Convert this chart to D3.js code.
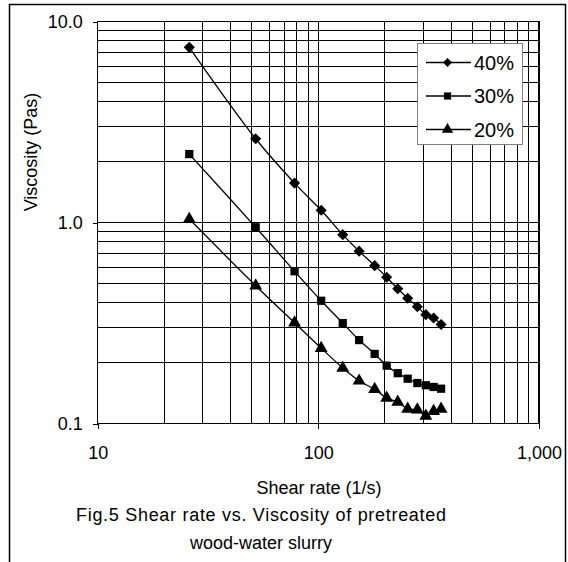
<!DOCTYPE html>
<html><head><meta charset="utf-8">
<script src="https://cdn.jsdelivr.net/npm/d3@7"></script>
<style>html,body{margin:0;padding:0;background:#fff;}svg{display:block;font-family:"Liberation Sans",Arial,sans-serif;}</style>
</head><body>
<svg id="c" width="568" height="562"></svg>
<script>
const shearRate = [26, 52, 78, 103, 129, 153, 180, 204, 229, 254, 281, 307, 333, 360];
const visc40 = [7.44, 2.61, 1.57, 1.15, 0.87, 0.72, 0.61, 0.534, 0.468, 0.42, 0.381, 0.348, 0.335, 0.311];
const visc30 = [2.19, 0.947, 0.572, 0.408, 0.316, 0.26, 0.222, 0.194, 0.178, 0.167, 0.159, 0.155, 0.152, 0.149];
const visc20 = [1.04, 0.485, 0.317, 0.237, 0.189, 0.163, 0.148, 0.134, 0.128, 0.118, 0.117, 0.109, 0.115, 0.118];
const seriesNames = ["40%", "30%", "20%"];
const seriesValues = [visc40, visc30, visc20];
const xTickValues = [10, 100, 1000];
const xTickLabels = ["10", "100", "1,000"];
const yTickValues = [0.1, 1, 10];
const yTickLabels = ["0.1", "1.0", "10.0"];
const xTitle = "Shear rate (1/s)";
const yTitle = "Viscosity (Pas)";
const caption = ["Fig.5 Shear rate vs. Viscosity of pretreated", "wood-water slurry"];

const svg = d3.select("#c");
const L = 97.7, R = 539, T = 21.5, B = 423.5;
const x = d3.scaleLog().domain([10, 1000]).range([L, R]);
const y = d3.scaleLog().domain([0.1, 10]).range([B, T]);
const FS = 18;

// marker shapes: diamond = rotated square
const shapes = [
  { type: d3.symbolSquare, size: 62, rot: 45, lsize: 40 },
  { type: d3.symbolSquare, size: 68, rot: 0, lsize: 52 },
  { type: d3.symbolTriangle, size: 72, rot: 0, lsize: 56 }
];

// outer frame
svg.append("rect").attr("x", 9.5).attr("y", 4.5).attr("width", 556).attr("height", 570)
  .attr("fill", "none").attr("stroke", "#000").attr("stroke-width", 1.5);

// grid
const xGrid = [];
for (let d = 10; d < 1000; d *= 10) for (let k = 1; k <= 9; k++) xGrid.push(d * k);
xGrid.push(1000);
const yGrid = [];
for (let d = 0.1; d < 10 - 1e-9; d *= 10) for (let k = 1; k <= 9; k++) yGrid.push(+(d * k).toFixed(3));
yGrid.push(10);
const g = svg.append("g").attr("shape-rendering", "crispEdges");
g.selectAll("line.gx").data(xGrid).join("line")
  .attr("x1", d => x(d)).attr("x2", d => x(d)).attr("y1", T).attr("y2", B)
  .attr("stroke", "#000").attr("stroke-width", 1);
g.selectAll("line.gy").data(yGrid).join("line")
  .attr("y1", d => y(d)).attr("y2", d => y(d)).attr("x1", L).attr("x2", R)
  .attr("stroke", "#000").attr("stroke-width", 1);
g.append("rect").attr("x", L).attr("y", T).attr("width", R - L).attr("height", B - T)
  .attr("fill", "none").attr("stroke", "#000").attr("stroke-width", 1.5);

// axes
const xAxis = d3.axisBottom(x).tickValues(xTickValues).tickFormat((d, i) => xTickLabels[i]).tickSize(5).tickPadding(18);
const yAxis = d3.axisLeft(y).tickValues(yTickValues).tickFormat((d, i) => yTickLabels[i]).tickSize(5).tickPadding(10);
const gx = svg.append("g").attr("transform", `translate(0,${B})`).call(xAxis);
const gy = svg.append("g").attr("transform", `translate(${L},0)`).call(yAxis);
[gx, gy].forEach(a => {
  a.select(".domain").remove();
  a.selectAll("line").attr("stroke", "#000").attr("shape-rendering", "crispEdges");
  a.selectAll("text").attr("font-size", FS).attr("fill", "#000").attr("font-family", "Liberation Sans, Arial, sans-serif");
});

// titles
svg.append("text").attr("x", 319).attr("y", 494).attr("text-anchor", "middle").attr("font-size", FS).text(xTitle);
svg.append("text").attr("transform", "translate(37,152) rotate(-90)").attr("text-anchor", "middle").attr("font-size", FS).text(yTitle);
const capWidths = [370, 142];
caption.forEach((t, i) => svg.append("text").attr("x", 261).attr("y", 521 + i * 28).attr("text-anchor", "middle")
  .attr("font-size", FS).attr("textLength", capWidths[i]).attr("lengthAdjust", "spacing").text(t));

// series
const line = d3.line().x(d => x(d[0])).y(d => y(d[1])).curve(d3.curveCatmullRom.alpha(0.5));
seriesValues.forEach((vals, si) => {
  const pts = shearRate.map((s, i) => [s, vals[i]]);
  const sh = shapes[si];
  svg.append("path").attr("d", line(pts)).attr("fill", "none").attr("stroke", "#000").attr("stroke-width", 1.3);
  svg.selectAll(null).data(pts).join("path")
    .attr("transform", d => `translate(${x(d[0])},${y(d[1])}) rotate(${sh.rot})`)
    .attr("d", d3.symbol().type(sh.type).size(sh.size))
    .attr("fill", "#000");
});

// legend
const lg = svg.append("g");
lg.append("rect").attr("x", 417.5).attr("y", 43.5).attr("width", 105).attr("height", 101)
  .attr("fill", "#fff").attr("stroke", "#808080").attr("stroke-width", 1);
seriesNames.forEach((n, i) => {
  const yy = 62.5 + i * 33.5;
  const sh = shapes[i];
  lg.append("line").attr("x1", 426).attr("x2", 471).attr("y1", yy).attr("y2", yy).attr("stroke", "#000").attr("stroke-width", 1.3);
  lg.append("path").attr("transform", `translate(447.5,${yy}) rotate(${sh.rot})`).attr("d", d3.symbol().type(sh.type).size(sh.lsize)).attr("fill", "#000");
  lg.append("text").attr("x", 474).attr("y", yy + 7).attr("font-size", 20).text(n);
});
</script>
</body></html>
